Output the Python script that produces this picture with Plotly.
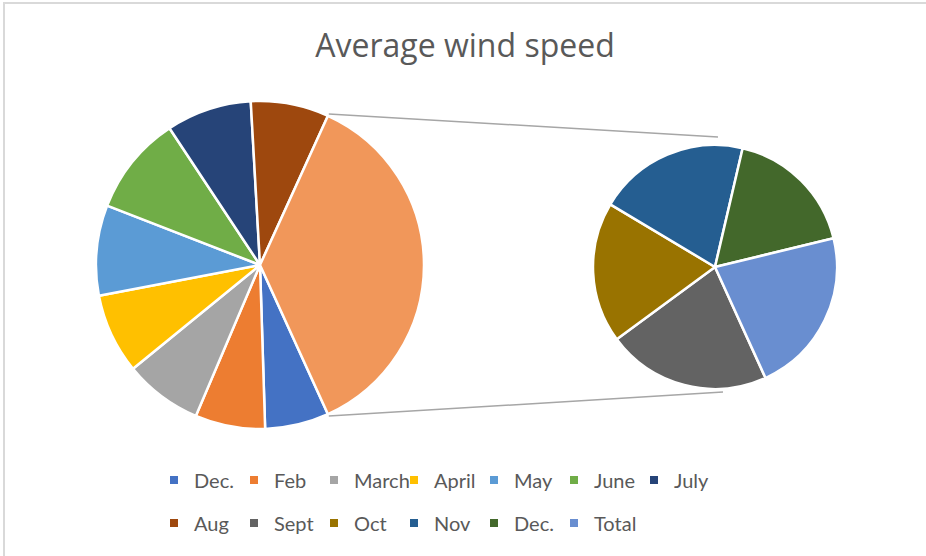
import math
import plotly.graph_objects as go

# ---- data ----
main_labels = ["Dec.", "Feb", "March", "April", "May", "June", "July", "Aug"]
main_values = [6.3, 6.9, 7.7, 7.9, 8.9, 9.8, 8.4, 7.7]
main_colors = ["#4472C4", "#ED7D31", "#A5A5A5", "#FFC000", "#5B9BD5", "#70AD47", "#264478", "#9E480E"]

sec_labels = ["Sept", "Oct", "Nov", "Dec.", "Total"]
sec_values = [7.9, 6.8, 7.3, 6.4, 8.0]
sec_colors = ["#636363", "#997300", "#255E91", "#43682B", "#698ED0"]

other_label = "Other"
other_color = "#F1975A"

W, H = 926, 556

def px_x(x):
    return x / W

def px_y(y):
    return 1 - y / H

other_value = sum(sec_values)
total = sum(main_values) + other_value
other_angle = other_value / total * 360
rot = 90 + other_angle / 2

# geometry (pixels)
mcx, mcy, mr = 260, 265, 164
scx, scy, sr = 715, 267, 122

fig = go.Figure()

fig.add_trace(go.Pie(
    labels=main_labels + [other_label],
    values=main_values + [other_value],
    marker=dict(colors=main_colors + [other_color], line=dict(color="white", width=2.5)),
    sort=False, direction="clockwise", rotation=rot,
    textinfo="none", hoverinfo="label+value", showlegend=False,
    domain=dict(x=[px_x(mcx - mr), px_x(mcx + mr)], y=[px_y(mcy + mr), px_y(mcy - mr)]),
))

fig.add_trace(go.Pie(
    labels=[l + " " for l in sec_labels],
    values=sec_values,
    marker=dict(colors=sec_colors, line=dict(color="white", width=2.5)),
    sort=False, direction="clockwise", rotation=rot,
    textinfo="none", hoverinfo="label+value", showlegend=False,
    domain=dict(x=[px_x(scx - sr), px_x(scx + sr)], y=[px_y(scy + sr), px_y(scy - sr)]),
))

# legend entries (two rows)
legend_labels = main_labels + sec_labels
legend_colors = main_colors + sec_colors
for i, (lab, col) in enumerate(zip(legend_labels, legend_colors)):
    fig.add_trace(go.Scatter(
        x=[None], y=[None], mode="markers", name=lab,
        marker=dict(symbol="square", size=8, color=col),
        legend="legend" if i < 7 else "legend2",
        hoverinfo="skip",
    ))
# invisible spacer so the last legend label is not clipped
fig.add_trace(go.Scatter(
    x=[None], y=[None], mode="markers", name=" ",
    marker=dict(symbol="square", size=8, color="rgba(0,0,0,0)"),
    legend="legend2", hoverinfo="skip",
))

# connector lines
t1 = math.radians(90 - other_angle / 2)
t2 = math.radians(90 + other_angle / 2)
p1 = (mcx + (mr + 2) * math.sin(t1), mcy - (mr + 2) * math.cos(t1))
p2 = (mcx + (mr + 2) * math.sin(t2), mcy - (mr + 2) * math.cos(t2))
q1 = (scx + 3, scy - sr - 8)
q2 = (scx + 8, scy + sr + 3)
shapes = [
    dict(type="line", xref="paper", yref="paper",
         x0=px_x(p1[0]), y0=px_y(p1[1]), x1=px_x(q1[0]), y1=px_y(q1[1]),
         line=dict(color="#A6A6A6", width=1.5)),
    dict(type="line", xref="paper", yref="paper",
         x0=px_x(p2[0]), y0=px_y(p2[1]), x1=px_x(q2[0]), y1=px_y(q2[1]),
         line=dict(color="#A6A6A6", width=1.5)),
    dict(type="rect", xref="paper", yref="paper",
         x0=px_x(4), y0=px_y(H + 10), x1=px_x(W + 10), y1=px_y(3),
         line=dict(color="#D9D9D9", width=2)),
]

legend_common = dict(
    orientation="h", xanchor="left", yanchor="middle",
    font=dict(family="Lato", size=20, color="#595959"),
    entrywidth=35, entrywidthmode="pixels",
    bgcolor="rgba(0,0,0,0)", itemclick=False, itemdoubleclick=False,
    tracegroupgap=0,
)

fig.update_layout(
    width=W, height=H,
    margin=dict(l=0, r=0, t=0, b=0, autoexpand=False),
    paper_bgcolor="white", plot_bgcolor="white",
    title=dict(text="Average wind speed", x=px_x(465), xanchor="center",
               y=px_y(46), yref="container", yanchor="middle",
               font=dict(family="Open Sans", size=32, color="#595959")),
    xaxis=dict(visible=False), yaxis=dict(visible=False),
    legend=dict(x=px_x(154), y=px_y(480), **legend_common),
    legend2=dict(x=px_x(154), y=px_y(523), **legend_common),
    shapes=shapes,
)

fig.write_html("out.html", config={"displayModeBar": False},
               post_script="document.body.style.margin='0';")
